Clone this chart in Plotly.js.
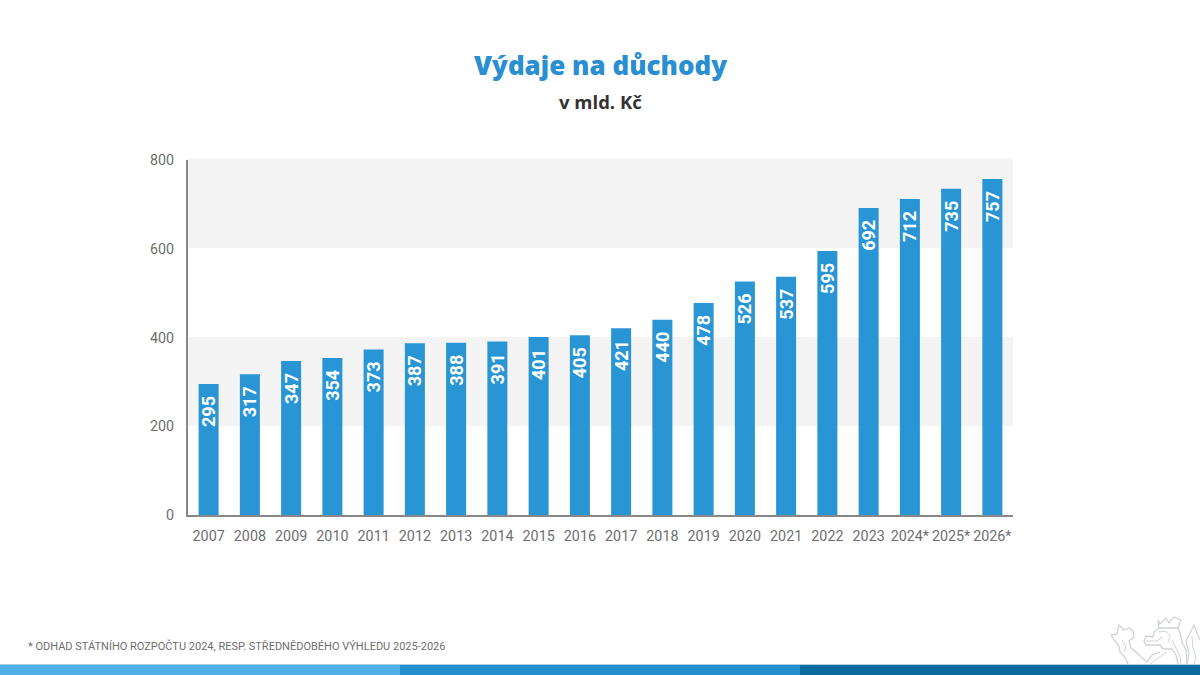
<!DOCTYPE html>
<html><head><meta charset="utf-8">
<script src="https://cdn.plot.ly/plotly-3.0.1.min.js"></script>
<style>html,body{margin:0;padding:0;background:#fff}#c{width:1200px;height:675px}</style></head>
<body><div id="c"></div>
<script>
const years = ['2007','2008','2009','2010','2011','2012','2013','2014','2015','2016','2017','2018','2019','2020','2021','2022','2023','2024*','2025*','2026*'];
const spending = [295,317,347,354,373,387,388,391,401,405,421,440,478,526,537,595,692,712,735,757];
const yTicks = [0,200,400,600,800];
const titleText = 'Výdaje na důchody';
const subtitleText = 'v mld. Kč';
const footnoteText = '* ODHAD STÁTNÍHO ROZPOČTU 2024, RESP. STŘEDNĚDOBÉHO VÝHLEDU 2025-2026';

const L=188,R=1013,T=160,B=515;
const px=x=>(x-L)/(R-L), py=y=>(B-y)/(B-T);
function rect(x0,y0,x1,y1,color){return {type:'rect',xref:'paper',yref:'paper',x0:px(x0),x1:px(x1),y0:py(y0),y1:py(y1),fillcolor:color,line:{width:0},layer:'above'};}
function poly(pts,close){return 'M'+pts.map(p=>px(p[0])+','+py(p[1])).join('L')+(close?'Z':'');}
function lionLine(pts,close,w){return {type:'path',xref:'paper',yref:'paper',path:poly(pts,close),line:{color:'#d0d3d6',width:w||1},fillcolor:'rgba(0,0,0,0)',layer:'above'};}
const lion=[
 lionLine([[1111,635],[1117,634],[1119,625],[1124,630],[1129,628],[1133,631],[1134,637],[1129,641],[1131,648],[1136,652],[1141,657],[1147,662],[1152,655],[1160,652]],false,1.3),
 lionLine([[1111,635],[1115,641],[1119,646],[1120,652],[1125,657],[1128,664]],false,1.3),
 lionLine([[1158,620],[1160,624],[1166,618],[1169,623],[1174,617],[1181,620],[1178,628],[1159,628]],true,1.3),
 lionLine([[1159,628],[1154,632],[1153,637],[1146,636],[1144,641],[1146,645],[1160,645],[1163,649],[1172,649],[1176,655],[1178,664]],false,1.3),
 lionLine([[1178,628],[1181,636],[1182,642],[1186,650],[1187,664]],false,1.3),
 lionLine([[1146,641],[1157,641],[1163,637]],false,1),
 lionLine([[1158,632],[1166,631],[1170,636],[1168,642]],false,1),
 lionLine([[1187,664],[1189,653],[1186,641],[1190,633],[1194,625],[1197,633],[1200,640]],false,1.2),
 lionLine([[1167,652],[1158,658],[1150,664]],false,1),
 lionLine([[1172,640],[1176,648],[1180,656],[1181,664]],false,1),
 lionLine([[1122,640],[1126,646],[1124,652]],false,1),
 lionLine([[1192,636],[1193,648],[1196,658],[1194,664]],false,1),
];
const bands=[
 {type:'rect',xref:'paper',yref:'paper',x0:0,x1:1,y0:py(158.5),y1:py(248),fillcolor:'#f4f4f4',line:{width:0},layer:'below'},
 {type:'rect',xref:'paper',yref:'paper',x0:0,x1:1,y0:py(337),y1:py(426),fillcolor:'#f4f4f4',line:{width:0},layer:'below'},
];
const footer=[
 rect(0,664,1200,665.2,'#a9cfe3'),
 rect(0,665,400,675,'#4fb1e5'),
 rect(400,665,800,675,'#2490d0'),
 rect(800,665,1200,675,'#0b6a9e'),
];
const trace={type:'bar',x:years,y:spending,text:spending.map(v=>v+'\u00a0\u00a0'),
 textposition:'inside',insidetextanchor:'end',textangle:-90,constraintext:'none',
 insidetextfont:{family:'Roboto',size:18,color:'#ffffff',weight:700},
 marker:{color:'#2a95d5',line:{width:0}},hoverinfo:'x+y',cliponaxis:false};
const layout={
 width:1200,height:675,paper_bgcolor:'#fff',plot_bgcolor:'rgba(0,0,0,0)',
 margin:{l:L,r:1200-R,t:T,b:675-B,pad:0},bargap:0.515,showlegend:false,
 font:{family:'Roboto',color:'#666'},
 xaxis:{type:'category',categoryorder:'array',categoryarray:years,showgrid:false,zeroline:false,showline:true,linecolor:'#888888',linewidth:2,ticks:'',tickangle:0,tickfont:{family:'Roboto',size:14.3,color:'#6e6e6e'},automargin:false,ticklabelstandoff:7},
 yaxis:{range:[0,800],tickmode:'array',tickvals:yTicks,ticktext:yTicks.map(String),showgrid:false,zeroline:false,showline:true,linecolor:'#888888',linewidth:2,ticks:'',tickfont:{family:'Roboto',size:14.3,color:'#6e6e6e'},automargin:false,ticklabelstandoff:9},
 shapes:[...bands,...lion,...footer],
 annotations:[
  {xref:'paper',yref:'paper',x:px(600),y:py(65),xanchor:'center',yanchor:'middle',showarrow:false,text:titleText,font:{family:'Open Sans',size:26,weight:800,color:'#2a8fd0'}},
  {xref:'paper',yref:'paper',x:px(600),y:py(101),xanchor:'center',yanchor:'middle',showarrow:false,text:subtitleText,font:{family:'Open Sans',size:18.5,weight:700,color:'#333'}},
  {xref:'paper',yref:'paper',x:px(26),y:py(646),xanchor:'left',yanchor:'middle',showarrow:false,text:footnoteText,font:{family:'Roboto',size:11,color:'#6e6e6e'}},
 ]
};
Plotly.newPlot('c',[trace],layout,{displayModeBar:false,staticPlot:true});
</script></body></html>
